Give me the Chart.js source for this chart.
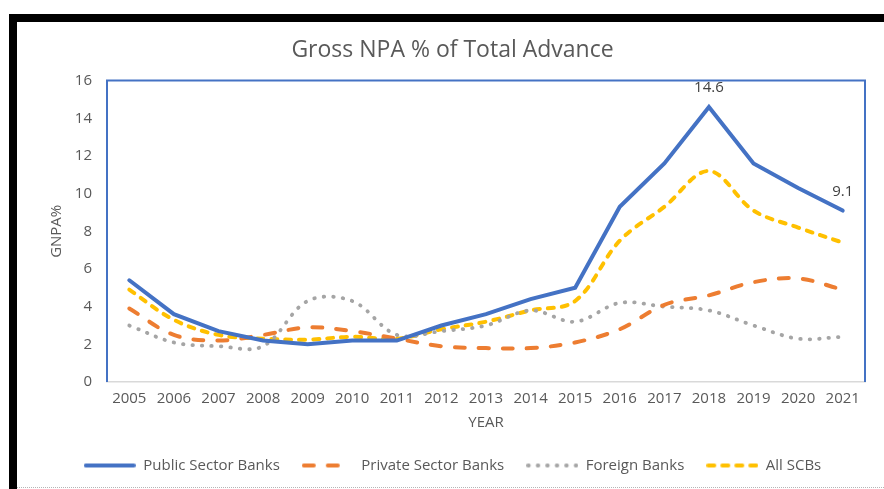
<!DOCTYPE html>
<html>
<head>
<meta charset="utf-8">
<script src="https://cdn.jsdelivr.net/npm/chart.js@4"></script>
<style>
  html, body { margin: 0; padding: 0; background: #fff; }
  body { width: 884px; height: 489px; position: relative; overflow: hidden; }
  #frame { position: absolute; left: 9px; top: 14px; right: 0; bottom: 0; border-top: 8px solid #000; border-left: 8px solid #000; }
  #foot { position: absolute; left: 17px; right: 0; top: 487px; border-top: 1px dotted #b5b5b5; z-index: 2; }
  #wrap { position: absolute; left: 17px; top: 22px; width: 867px; height: 480px; }
</style>
</head>
<body>
<div id="frame"></div>
<div id="wrap"><canvas id="npa-canvas" width="867" height="480"></canvas></div>
<div id="foot"></div>
<script>
var years = ['2005', '2006', '2007', '2008', '2009', '2010', '2011', '2012', '2013',
  '2014', '2015', '2016', '2017', '2018', '2019', '2020', '2021'];
var publicSector = [5.4, 3.6, 2.7, 2.2, 2.0, 2.2, 2.2, 3.0, 3.6, 4.4, 5.0, 9.3, 11.6, 14.6, 11.6, 10.3, 9.1];
var privateSector = [3.9, 2.5, 2.2, 2.5, 2.9, 2.7, 2.3, 1.9, 1.8, 1.8, 2.1, 2.8, 4.1, 4.6, 5.3, 5.5, 4.9];
var foreignBanks = [3.0, 2.1, 1.9, 1.9, 4.3, 4.3, 2.5, 2.7, 3.0, 3.8, 3.2, 4.2, 4.0, 3.8, 3.0, 2.3, 2.4];
var allSCBs = [4.9, 3.3, 2.5, 2.3, 2.25, 2.4, 2.3, 2.8, 3.2, 3.8, 4.3, 7.5, 9.3, 11.2, 9.1, 8.2, 7.4];
var yTicks = [0, 2, 4, 6, 8, 10, 12, 14, 16];
// which public sector points carry a value label
var labelIndexes = [13, 16];

var FONT = '"Open Sans", sans-serif';
var TEXT = '#595959';

// little line samples for the legend, drawn in each series' stroke style
function lineSample(color, dash, cap) {
  var c = document.createElement('canvas');
  c.width = 52;
  c.height = 8;
  var g = c.getContext('2d');
  g.strokeStyle = color;
  g.lineWidth = 4;
  g.lineCap = cap;
  g.setLineDash(dash);
  g.beginPath();
  g.moveTo(cap === 'round' ? 2 : 0, 4);
  g.lineTo(cap === 'round' ? 50 : 52, 4);
  g.stroke();
  return c;
}

var series = [
  {label: 'Public Sector Banks', data: publicSector, color: '#4472C4', dash: [], cap: 'round', tension: 0},
  {label: 'Private Sector Banks', data: privateSector, color: '#ED7D31', dash: [10, 14], cap: 'round', tension: 0.35},
  {label: 'Foreign Banks', data: foreignBanks, color: '#A5A5A5', dash: [0.5, 9], cap: 'round', tension: 0.35},
  {label: 'All SCBs', data: allSCBs, color: '#FFC000', dash: [6, 8], cap: 'round', tension: 0.35}
];

var datasets = series.map(function(s) {
  return {
    label: s.label,
    data: s.data,
    borderColor: s.color,
    backgroundColor: s.color,
    borderWidth: s.data === foreignBanks ? 3.8 : 4,
    borderDash: s.dash,
    borderCapStyle: s.cap,
    tension: s.tension,
    pointRadius: 0,
    fill: false,
    sample: lineSample(s.color, s.dash, s.cap)
  };
});

// blue plot-area outline (left, top, right)
var plotBorder = {
  id: 'plotBorder',
  beforeDatasetsDraw: function(chart) {
    var a = chart.chartArea;
    var ctx = chart.ctx;
    ctx.save();
    ctx.strokeStyle = '#4472C4';
    ctx.lineWidth = 2;
    ctx.beginPath();
    ctx.moveTo(a.left, a.bottom);
    ctx.lineTo(a.left, a.top);
    ctx.lineTo(a.right, a.top);
    ctx.lineTo(a.right, a.bottom);
    ctx.stroke();
    ctx.restore();
  }
};

var valueLabels = {
  id: 'valueLabels',
  afterDatasetsDraw: function(chart) {
    var meta = chart.getDatasetMeta(0);
    var ctx = chart.ctx;
    ctx.save();
    ctx.font = '15px ' + FONT;
    ctx.fillStyle = '#404040';
    ctx.textAlign = 'center';
    ctx.textBaseline = 'middle';
    labelIndexes.forEach(function(i) {
      var pt = meta.data[i];
      ctx.fillText(publicSector[i].toFixed(1), pt.x, pt.y - 19);
    });
    ctx.restore();
  }
};

var chart = new Chart(document.getElementById('npa-canvas').getContext('2d'), {
  type: 'line',
  data: {labels: years, datasets: datasets},
  options: {
    responsive: false,
    animation: false,
    layout: {padding: {left: 23, right: 19, top: 0, bottom: 19}},
    plugins: {
      title: {
        display: true,
        text: 'Gross NPA % of Total Advance',
        color: TEXT,
        font: {family: FONT, size: 23, weight: 'normal'},
        padding: {top: 15, bottom: 16}
      },
      legend: {
        position: 'bottom',
        labels: {
          color: TEXT,
          font: {family: FONT, size: 15},
          usePointStyle: true,
          pointStyleWidth: 52,
          padding: 22,
          generateLabels: function(chart) {
            return chart.data.datasets.map(function(ds, i) {
              return {
                text: ds.label,
                datasetIndex: i,
                pointStyle: ds.sample,
                fillStyle: ds.borderColor,
                strokeStyle: ds.borderColor,
                fontColor: TEXT,
                lineWidth: 0,
                hidden: false
              };
            });
          }
        }
      },
      tooltip: {enabled: false}
    },
    scales: {
      x: {
        offset: true,
        grid: {display: false, drawTicks: false},
        border: {color: '#D9D9D9', width: 1.5},
        ticks: {color: TEXT, font: {family: FONT, size: 15}, padding: 8, maxRotation: 0, autoSkip: false},
        title: {display: true, text: 'YEAR', color: TEXT, font: {family: FONT, size: 15}, padding: {top: 4, bottom: 4}},
        afterFit: function(scale) { scale.height = 54; }
      },
      y: {
        min: 0,
        max: 16,
        grid: {display: false, drawTicks: false},
        border: {display: false},
        afterBuildTicks: function(scale) {
          scale.ticks = yTicks.map(function(v) { return {value: v}; });
        },
        ticks: {color: TEXT, font: {family: FONT, size: 15}, padding: 15},
        title: {display: true, text: 'GNPA%', color: TEXT, font: {family: FONT, size: 15}, padding: {top: 8, bottom: 4}},
        afterFit: function(scale) { scale.width = 67; }
      }
    }
  },
  plugins: [plotBorder, valueLabels]
});
</script>
</body>
</html>
